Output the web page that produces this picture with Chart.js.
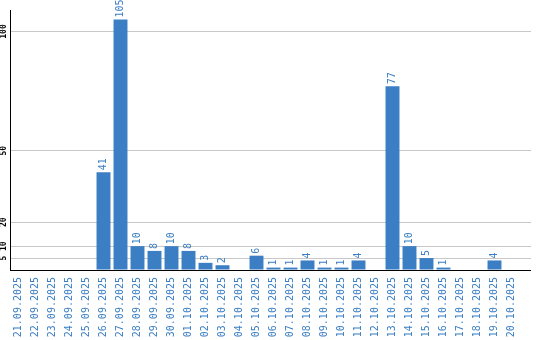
<!DOCTYPE html>
<html>
<head>
<meta charset="utf-8">
<script src="https://cdn.jsdelivr.net/npm/chart.js@4/dist/chart.umd.min.js"></script>
<style>
  html, body { margin: 0; padding: 0; background: #ffffff; }
  #wrap { width: 540px; height: 340px; }
</style>
</head>
<body>
<div id="wrap"><canvas id="c" width="540" height="340"></canvas></div>
<script>
const categories = [
  '21.09.2025','22.09.2025','23.09.2025','24.09.2025','25.09.2025','26.09.2025',
  '27.09.2025','28.09.2025','29.09.2025','30.09.2025','01.10.2025','02.10.2025',
  '03.10.2025','04.10.2025','05.10.2025','06.10.2025','07.10.2025','08.10.2025',
  '09.10.2025','10.10.2025','11.10.2025','12.10.2025','13.10.2025','14.10.2025',
  '15.10.2025','16.10.2025','17.10.2025','18.10.2025','19.10.2025','20.10.2025'
];
const values = [0,0,0,0,0,41,105,10,8,10,8,3,2,0,6,1,1,4,1,1,4,0,77,10,5,1,0,0,4,0];
const yTickValues = [5, 10, 20, 50, 100];
const yMax = 109;

const BLUE = '#3b7ec3';
const GRID = '#c8c8c8';
const MONO = '"DejaVu Sans Mono", "Liberation Mono", monospace';

const gridColor = (ctx) => (ctx.tick && ctx.tick.value === 0) ? '#000000' : GRID;
const setTicks = (scale) => { scale.ticks = [0].concat(yTickValues).map(v => ({ value: v })); };

const barLabels = {
  id: 'barLabels',
  afterDatasetsDraw(chart) {
    const ctx = chart.ctx;
    const meta = chart.getDatasetMeta(0);
    ctx.save();
    ctx.fillStyle = BLUE;
    ctx.font = '10px ' + MONO;
    ctx.textAlign = 'left';
    ctx.textBaseline = 'middle';
    meta.data.forEach((bar, i) => {
      const v = values[i];
      if (!v) return;
      ctx.save();
      ctx.translate(bar.x, bar.y - 2);
      ctx.rotate(-Math.PI / 2);
      ctx.fillText(String(v), 0, 0);
      ctx.restore();
    });
    ctx.restore();
  }
};

new Chart(document.getElementById('c'), {
  type: 'bar',
  data: {
    labels: categories,
    datasets: [{
      data: values,
      backgroundColor: BLUE,
      borderWidth: 0,
      categoryPercentage: 1.0,
      barPercentage: 0.82
    }]
  },
  options: {
    responsive: false,
    animation: false,
    devicePixelRatio: 1,
    layout: { padding: { top: 10, right: 9, left: 0, bottom: 0 } },
    plugins: { legend: { display: false }, tooltip: { enabled: false } },
    scales: {
      x: {
        grid: { display: false, drawTicks: false },
        border: { display: false },
        ticks: {
          autoSkip: false, minRotation: 90, maxRotation: 90,
          color: BLUE, padding: 7,
          font: { family: MONO, size: 10 }
        },
        afterFit: (s) => { s.height = 70; }
      },
      y: {
        position: 'left', min: 0, max: yMax,
        afterBuildTicks: setTicks,
        grid: { color: gridColor, drawTicks: false, lineWidth: 1 },
        border: { display: true, color: '#000000', width: 1 },
        ticks: {
          minRotation: 90, maxRotation: 90, crossAlign: 'center', padding: -1.5,
          color: '#000000', font: { family: MONO, size: 8, weight: 'bold' },
          callback: (v) => v === 0 ? '' : String(v)
        },
        afterFit: (s) => { s.width = 10; }
      },
      y2: {
        position: 'right', min: 0, max: yMax,
        afterBuildTicks: setTicks,
        grid: { drawOnChartArea: false, drawTicks: true, tickLength: 11, color: gridColor, lineWidth: 1 },
        border: { display: false },
        ticks: { display: false },
        afterFit: (s) => { s.width = 11; }
      }
    }
  },
  plugins: [barLabels]
});
</script>
</body>
</html>
